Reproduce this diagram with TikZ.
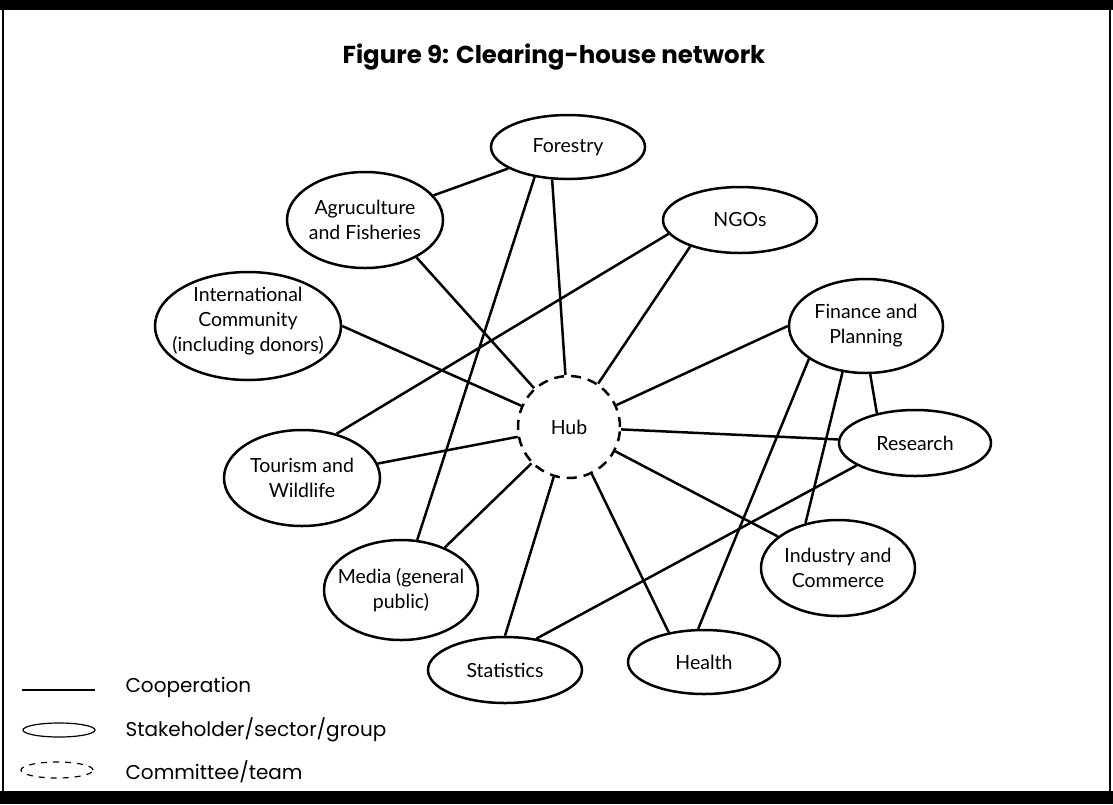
\documentclass[tikz,border=0pt]{standalone}
\usepackage{fontspec}
\setmainfont{Lato}
\newfontfamily\futura{Poppins}
\usetikzlibrary{shapes.geometric}

\begin{document}
\begin{tikzpicture}[x=1pt, y=-1pt,
	stakeholder/.style={draw, ellipse, line width=2.5pt, inner sep=0pt},
	cooperation/.style={line width=2.5pt},
	lbl/.style={font=\fontsize{19.5}{25}\selectfont, align=center},
	legendText/.style={font=\futura\fontsize{20}{22}\selectfont, anchor=west}]

% Draw frame.

	\useasboundingbox (0,0) rectangle (1113,804);
	\fill[black] (0,0) rectangle (1113,10);
	\fill[black] (0,791) rectangle (1113,804);
	\draw[line width=2pt] (3,0) -- (3,804);
	\draw[line width=1.5pt] (1110,0) -- (1110,804);

% Define nodes.

	%title
	\node[font=\futura\bfseries\fontsize{24.5}{28}\selectfont] (title) at (554,57) {Figure 9: Clearing-house network};

	%hub
	\node[draw, circle, line width=2.5pt, dash pattern=on 10pt off 7pt, minimum size=102pt, inner sep=0pt, font=\fontsize{19.5}{25}\selectfont] (hub) at (569,427) {Hub};

	%stakeholders
	\node[stakeholder, minimum width=154pt, minimum height=64pt, label={[lbl]center:Forestry}] (forestry) at (568,147) {};
	\node[stakeholder, minimum width=156pt, minimum height=96pt, label={[lbl]center:{Agruculture\\and Fisheries}}] (agri) at (365,220) {};
	\node[stakeholder, minimum width=154pt, minimum height=66pt, label={[lbl]center:NGOs}] (ngo) at (740,220) {};
	\node[stakeholder, minimum width=186pt, minimum height=108pt, label={[lbl, yshift=5pt]center:{International\\Community\\(including donors)}}] (intl) at (248,326) {};
	\node[stakeholder, minimum width=154pt, minimum height=94pt, label={[lbl]center:{Finance and\\Planning}}] (finance) at (866,326) {};
	\node[stakeholder, minimum width=152pt, minimum height=66pt, label={[lbl]center:Research}] (research) at (915,443) {};
	\node[stakeholder, minimum width=156pt, minimum height=96pt, label={[lbl]center:{Tourism and\\Wildlife}}] (tourism) at (302,478) {};
	\node[stakeholder, minimum width=154pt, minimum height=96pt, label={[lbl]center:{Industry and\\Commerce}}] (industry) at (838,568) {};
	\node[stakeholder, minimum width=154pt, minimum height=100pt, label={[lbl]center:{Media (general\\public)}}] (media) at (401,590) {};
	\node[stakeholder, minimum width=154pt, minimum height=66pt, label={[lbl]center:Statistics}] (stats) at (505,670) {};
	\node[stakeholder, minimum width=152pt, minimum height=64pt, label={[lbl]center:Health}] (health) at (704,662) {};

% Draw links.

	\draw[cooperation] (agri) -- (forestry);
	\draw[cooperation] (agri.-36) -- (hub);
	\draw[cooperation] (forestry.-116) -- (hub);
	\draw[cooperation] (forestry.-138) -- (media);
	\draw[cooperation] (ngo.-152) -- (hub);
	\draw[cooperation] (ngo.-169) -- (tourism.52);
	\draw[cooperation] (intl.0) -- (hub);
	\draw[cooperation] (tourism) -- (hub);
	\draw[cooperation] (media) -- (hub);
	\draw[cooperation] (stats.90) -- (hub);
	\draw[cooperation] (health.140) -- (hub);
	\draw[cooperation] (industry) -- (hub);
	\draw[cooperation] (research) -- (hub);
	\draw[cooperation] (finance.180) -- (hub);
	\draw[cooperation] (finance.-85) -- (research.142);
	\draw[cooperation] (finance.-117) -- (industry.126);
	\draw[cooperation] (finance.-150) -- (health.100);
	\draw[cooperation] (research.-159) -- (stats.45);

% Draw legend.

	\coordinate (coopTail) at (22,690);
	\coordinate (coopHead) at (95,690);
	\draw[line width=1.2pt] (coopTail) -- (coopHead);
	\node[draw, ellipse, line width=1.2pt, minimum width=72pt, minimum height=14pt, inner sep=0pt] (legStake) at (59,730) {};
	\node[draw, ellipse, line width=1.2pt, dash pattern=on 6pt off 6pt, minimum width=72pt, minimum height=16pt, inner sep=0pt] (legTeam) at (57,770) {};

	\node[legendText] (coopText) at (122,687) {Cooperation};
	\node[legendText] (stakeText) at (122,730) {Stakeholder/sector/group};
	\node[legendText] (teamText) at (122,772) {Committee/team};

\end{tikzpicture}
\end{document}
